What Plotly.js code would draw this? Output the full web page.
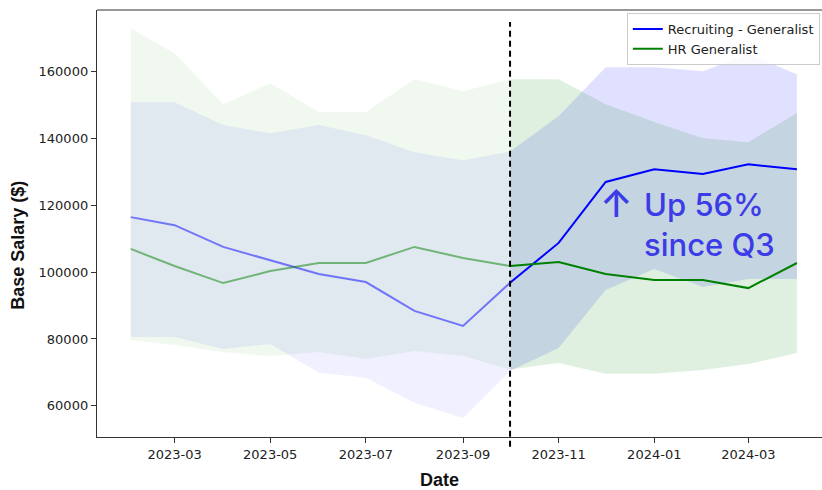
<!DOCTYPE html>
<html><head><meta charset="utf-8">
<script src="https://cdn.plot.ly/plotly-3.0.1.min.js"></script>
<style>html,body{margin:0;padding:0;background:#fff;overflow:hidden}</style>
</head><body><div id="chart" style="width:822px;height:490px"></div>
<script>
const dates = ['2023-02-01','2023-03-01','2023-04-01','2023-05-01','2023-06-01','2023-07-01','2023-08-01','2023-09-01','2023-10-01','2023-11-01','2023-12-01','2024-01-01','2024-02-01','2024-03-01','2024-04-01'];
const recruitingMedian = [116400,114000,107500,103600,99400,97000,88400,83900,96800,108700,126900,130700,129300,132200,130700];
const recruitingLower  = [80600,80600,77000,78500,69900,68400,60900,56400,70400,77300,94600,100900,95500,97900,97900];
const recruitingUpper  = [150700,150700,143900,141500,143900,140900,135800,133400,136000,146600,161200,161200,160000,165100,159100];
const hrMedian = [106900,101800,96700,100300,102700,102700,107500,104200,101800,103000,99400,97600,97600,95200,102700];
const hrLower  = [79700,78200,76100,74900,76100,74000,76400,74900,70900,72800,69600,69600,70700,72500,75800];
const hrUpper  = [172800,165400,150100,156400,147800,147800,157600,154000,157600,157600,150100,144800,140000,138800,147500];
const splitDate = '2023-10-01';
const yTicks = [60000,80000,100000,120000,140000,160000];
const xTicks = ['2023-03-01','2023-05-01','2023-07-01','2023-09-01','2023-11-01','2024-01-01','2024-03-01'];
const xTickLabels = ['2023-03','2023-05','2023-07','2023-09','2023-11','2024-01','2024-03'];
const seriesNames = ['Recruiting - Generalist','HR Generalist'];
const annotationText = 'Up 56%<br>since Q3';

const k = dates.indexOf(splitDate);
const pre = a => a.slice(0, k + 1);
const post = a => a.slice(k);

function band(x, lo, hi, color) {
  return [
    {x: x, y: lo, type: 'scatter', mode: 'lines', line: {width: 0, color: color}, showlegend: false, hoverinfo: 'skip'},
    {x: x, y: hi, type: 'scatter', mode: 'lines', line: {width: 0, color: color}, fill: 'tonexty', fillcolor: color, showlegend: false, hoverinfo: 'skip'}
  ];
}
function line(x, y, color, name, show) {
  return {x: x, y: y, type: 'scatter', mode: 'lines', name: name, showlegend: show, line: {color: color, width: 2}};
}

const traces = [].concat(
  band(pre(dates), pre(recruitingLower), pre(recruitingUpper), 'rgba(0,0,255,0.06)'),
  band(pre(dates), pre(hrLower), pre(hrUpper), 'rgba(0,128,0,0.06)'),
  band(post(dates), post(recruitingLower), post(recruitingUpper), 'rgba(0,0,255,0.12)'),
  band(post(dates), post(hrLower), post(hrUpper), 'rgba(0,128,0,0.12)'),
  [
    line(pre(dates), pre(recruitingMedian), 'rgba(0,0,255,0.5)', seriesNames[0], false),
    line(pre(dates), pre(hrMedian), 'rgba(0,128,0,0.5)', seriesNames[1], false),
    line(post(dates), post(recruitingMedian), 'blue', seriesNames[0], true),
    line(post(dates), post(hrMedian), 'green', seriesNames[1], true)
  ]
);

const tickFont = {family: 'DejaVu Sans', size: 13, color: '#222'};
const annColor = '#3b3be8';
const layout = {
  width: 822, height: 490,
  margin: {l: 97, r: 0, t: 10, b: 53, pad: 0},
  paper_bgcolor: '#fff', plot_bgcolor: '#fff',
  showlegend: true,
  xaxis: {
    type: 'date', range: ['2023-01-10 12:00', '2024-04-17'],
    tickvals: xTicks, ticktext: xTickLabels,
    ticks: 'outside', ticklen: 5, tickwidth: 1, tickcolor: '#333',
    showline: true, linecolor: '#333', linewidth: 1.2,
    showgrid: false, zeroline: false, tickfont: tickFont
  },
  yaxis: {
    range: [50700, 178300],
    tickvals: yTicks, ticktext: yTicks.map(String),
    ticks: 'outside', ticklen: 5, tickwidth: 1, tickcolor: '#333',
    showline: true, linecolor: '#333', linewidth: 1.2,
    showgrid: false, zeroline: false, tickfont: tickFont
  },
  legend: {
    x: 0.997, xanchor: 'right', y: 0.993, yanchor: 'top',
    traceorder: 'normal',
    bgcolor: 'rgba(255,255,255,0.85)', bordercolor: '#ccc', borderwidth: 1,
    font: {family: 'DejaVu Sans', size: 13, color: '#222'},
    tracegroupgap: 0, itemwidth: 30
  },
  shapes: [
    {type: 'line', xref: 'x', yref: 'paper', x0: splitDate, x1: splitDate, y0: -0.023, y1: 0.972,
     line: {color: 'black', width: 2, dash: '6px,4px'}},
    {type: 'line', xref: 'paper', yref: 'paper', x0: 0, x1: 1, y0: 1, y1: 1,
     line: {color: '#333', width: 1.2}}
  ],
  annotations: [
    {xref: 'paper', yref: 'paper', x: 0.752, y: 0.497, xanchor: 'left', yanchor: 'middle',
     text: annotationText, showarrow: false, align: 'left',
     font: {family: 'Inter', size: 31, color: annColor, weight: 500}},
    {xref: 'paper', yref: 'paper', x: 0.717, y: 0.548, xanchor: 'center', yanchor: 'middle',
     text: '↑', showarrow: false,
     font: {family: 'Inter', size: 38, color: annColor, weight: 500}},
    {xref: 'paper', yref: 'paper', x: 0.473, y: -0.101, xanchor: 'center', yanchor: 'middle',
     text: 'Date', showarrow: false,
     font: {family: 'Liberation Sans', size: 18, color: '#111', weight: 'bold'}},
    {xref: 'paper', yref: 'paper', x: -0.109, y: 0.45, xanchor: 'center', yanchor: 'middle',
     text: 'Base Salary ($)', showarrow: false, textangle: -90,
     font: {family: 'Liberation Sans', size: 18, color: '#111', weight: 'bold'}}
  ]
};

Plotly.newPlot('chart', traces, layout, {staticPlot: true, displayModeBar: false});
</script>
</body></html>
